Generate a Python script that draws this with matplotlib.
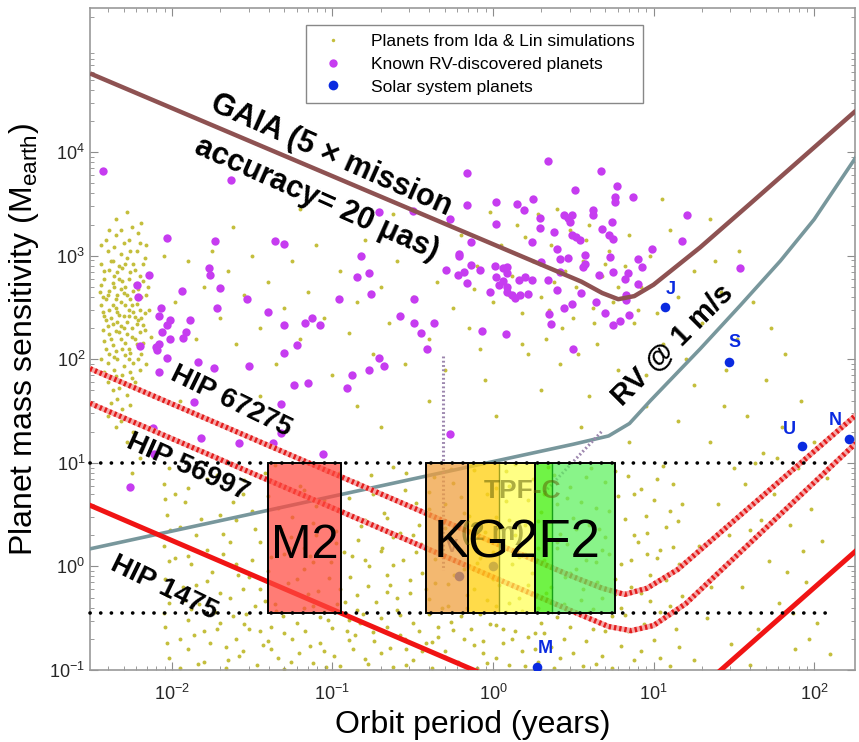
import matplotlib
matplotlib.use("Agg")
import matplotlib.pyplot as plt
from matplotlib.lines import Line2D
from matplotlib.patches import Rectangle
import numpy as np

plt.rcParams["font.family"] = ["Liberation Sans", "DejaVu Sans"]
plt.rcParams["mathtext.default"] = "regular"

# ---- detection curves: log10(period / yr), log10(mass / M_earth) ----
GAIA_LOGP = [-2.51, 0.55, 0.68, 0.78, 0.88, 1.00, 1.29, 1.60, 2.26]
GAIA_LOGM = [4.76, 2.75, 2.64, 2.58, 2.61, 2.72, 3.08, 3.50, 4.40]

RV_LOGP = [-2.51, 0.50, 0.72, 0.85, 0.98, 1.29, 1.54, 1.79, 2.00, 2.26]
RV_LOGM = [0.17, 1.18, 1.26, 1.38, 1.60, 2.10, 2.52, 2.95, 3.35, 3.95]

HIP67275_LOGP = [-2.51, 0.50, 0.68, 0.82, 0.96, 1.15, 2.26]
HIP67275_LOGM = [1.91, -0.10, -0.21, -0.27, -0.21, -0.03, 1.46]

HIP56997_LOGP = [-2.51, 0.55, 0.72, 0.86, 1.00, 1.20, 2.26]
HIP56997_LOGM = [1.575, -0.47, -0.58, -0.62, -0.57, -0.36, 1.19]

HIP1475_LOGP = [-2.51, 0.60, 0.80, 1.00, 1.20, 2.26]
HIP1475_LOGM = [0.59, -1.48, -1.58, -1.55, -1.30, 0.15]

# dotted guide lines (period yr, mass M_earth)
VENUS_GUIDE_P = [0.49, 0.49]
VENUS_GUIDE_M = [107.0, 0.93]
DIAG_GUIDE_P = [2.09, 4.84]
DIAG_GUIDE_M = [5.2, 20.7]
LIMIT_P = [0.0031, 123.0]
LIMIT_M = [10.0, 0.355]

# ---- spectral type boxes (period range in yr) ----
BOX_M = (0.355, 10.0)
BOX_M2 = (0.0398, 0.113)
BOX_K = (0.383, 0.698)
BOX_G = (0.698, 1.09, 1.83)
BOX_F = (1.83, 2.33, 5.75)

# ---- known RV planets: log10 period, log10 mass ----
RV_PLANETS = [
    (-2.43, 3.82), (-1.63, 3.73), (-0.16, 3.80), (-0.16, 3.49), (-2.03, 3.17),
    (-1.73, 3.14), (-1.36, 3.14), (-1.30, 3.11), (-0.71, 3.42), (-0.50, 3.43),
    (-0.82, 3.00), (-0.21, 3.02), (-0.29, 2.86), (-0.22, 2.81), (-0.18, 2.84),
    (-0.16, 2.74), (-1.77, 2.88), (-1.76, 2.81), (-2.14, 2.81), (-2.22, 2.72),
    (-2.21, 2.60), (-1.94, 2.66), (-1.70, 2.69), (-0.85, 2.79), (-0.77, 2.83),
    (-0.76, 2.63), (-0.96, 2.58), (-0.49, 2.58), (-1.53, 2.58), (-1.72, 2.50),
    (-1.40, 2.46), (-2.07, 2.50), (-2.08, 2.42), (-2.01, 2.38), (-2.03, 2.33),
    (-1.89, 2.38), (-2.06, 2.26), (-2.01, 2.20), (-1.93, 2.21), (-1.91, 2.26),
    (-2.08, 2.15), (-2.10, 2.12), (-2.09, 2.09), (-2.20, 2.13), (-1.30, 2.33),
    (-1.17, 2.35), (-1.13, 2.40), (-1.08, 2.33), (-0.58, 2.42), (-0.49, 2.35),
    (-0.37, 2.35), (-0.45, 2.25), (-0.41, 2.10), (-1.22, 2.14), (-1.30, 2.06),
    (-1.52, 1.94), (-1.84, 1.97), (-1.74, 1.92), (-2.03, 2.01), (-2.08, 1.88),
    (-0.71, 2.01), (-0.68, 1.94), (-0.77, 1.90), (-0.88, 1.85), (-0.91, 1.72),
    (-1.15, 1.77), (-1.24, 1.75), (-1.86, 1.59), (-1.82, 1.24), (-2.12, 1.34),
    (-2.26, 0.77), (-1.58, 1.19), (-1.32, 1.57), (-1.32, 1.29), (-1.37, 1.19),
    (-1.06, 1.09), (-2.11, 1.09),
    (0.34, 3.91), (0.67, 3.82), (0.77, 3.67), (0.51, 3.63), (0.87, 3.57),
    (0.76, 3.57), (0.76, 3.52), (0.02, 3.52), (0.15, 3.50), (0.25, 3.55),
    (0.19, 3.44), (1.21, 3.39), (0.62, 3.44), (0.62, 3.39), (0.44, 3.39),
    (0.47, 3.36), (0.49, 3.39), (0.48, 3.33), (0.29, 3.36), (0.02, 3.31),
    (-0.27, 3.35), (0.74, 3.33), (0.29, 3.27), (0.68, 3.26), (0.38, 3.23),
    (0.49, 3.20), (0.52, 3.18), (0.54, 3.15), (0.72, 3.20), (0.75, 3.16),
    (1.18, 3.14), (0.24, 3.13), (0.99, 3.06), (-0.14, 3.13), (0.40, 3.06),
    (0.57, 3.01), (-0.21, 3.00), (0.73, 2.99), (0.90, 2.97), (0.42, 2.97),
    (0.47, 2.98), (0.30, 2.94), (0.57, 2.92), (0.56, 2.89), (0.93, 2.89),
    (-0.14, 2.91), (-0.08, 2.86), (0.01, 2.90), (0.06, 2.88), (0.09, 2.89),
    (0.09, 2.83), (0.42, 2.84), (0.66, 2.81), (0.75, 2.84), (0.82, 2.78),
    (0.84, 2.83), (0.02, 2.79), (0.06, 2.76), (0.04, 2.72), (0.16, 2.77),
    (0.20, 2.79), (0.24, 2.77), (0.34, 2.77), (0.90, 2.73), (-0.02, 2.65),
    (0.09, 2.70), (0.09, 2.65), (0.12, 2.62), (0.14, 2.59), (0.17, 2.62),
    (0.22, 2.63), (0.40, 2.67), (0.55, 2.64), (0.83, 2.62), (0.83, 2.57),
    (0.64, 2.55), (0.44, 2.50), (0.49, 2.53), (0.35, 2.44), (0.70, 2.45),
    (0.85, 2.43), (0.79, 2.37), (0.75, 2.33), (0.36, 2.34), (-0.07, 2.27),
    (0.08, 2.24), (0.50, 2.10), (-0.27, 1.28), (1.54, 2.88),
]

# ---- Ida & Lin simulated planets: log10 period, log10 mass ----
SIM_HOT = [
    (-2.40, 3.05), (-2.35, 3.20), (-2.30, 3.12), (-2.25, 3.28), (-2.38, 2.95),
    (-2.33, 2.90), (-2.28, 2.98), (-2.22, 3.05), (-2.18, 2.92), (-2.42, 2.85),
    (-2.36, 2.80), (-2.31, 2.76), (-2.26, 2.84), (-2.20, 2.80), (-2.15, 2.70),
    (-2.44, 2.72), (-2.39, 2.66), (-2.34, 2.62), (-2.29, 2.70), (-2.24, 2.66),
    (-2.19, 2.60), (-2.41, 2.58), (-2.37, 2.52), (-2.32, 2.55), (-2.27, 2.48),
    (-2.22, 2.53), (-2.17, 2.45), (-2.43, 2.46), (-2.38, 2.40), (-2.33, 2.43),
    (-2.28, 2.36), (-2.23, 2.41), (-2.18, 2.33), (-2.40, 2.32), (-2.35, 2.27),
    (-2.30, 2.30), (-2.25, 2.22), (-2.20, 2.26), (-2.42, 2.18), (-2.37, 2.14),
    (-2.32, 2.20), (-2.27, 2.10), (-2.22, 2.15), (-2.39, 2.05), (-2.34, 2.00),
    (-2.29, 2.04), (-2.24, 1.96), (-2.36, 1.90), (-2.31, 1.85), (-2.26, 1.88),
    (-2.40, 1.78), (-2.33, 1.72), (-2.28, 1.66), (-2.38, 1.58), (-2.31, 1.52),
    (-2.35, 3.35), (-2.28, 3.42), (-2.21, 3.22), (-2.16, 3.10), (-2.44, 3.10),
    (-2.31, 2.88), (-2.36, 2.70), (-2.26, 2.58), (-2.41, 2.38), (-2.30, 2.42),
    (-2.21, 2.68), (-2.34, 2.36), (-2.25, 2.30), (-2.39, 2.24), (-2.29, 2.16),
    (-2.19, 2.05), (-2.35, 2.08), (-2.27, 2.00), (-2.23, 1.78), (-2.14, 2.48),
    (-2.13, 2.22), (-2.16, 1.95), (-2.44, 2.00), (-2.37, 2.95), (-2.24, 2.92),
    (-2.32, 3.02), (-2.27, 3.15), (-2.39, 3.25), (-2.19, 3.32), (-2.43, 2.60),
    (-2.35, 2.50), (-2.21, 2.38), (-2.33, 2.78), (-2.28, 2.62), (-2.23, 2.73),
    (-2.35, 1.35), (-2.28, 1.20), (-2.20, 1.05), (-2.25, 0.90),
    (-2.41, 3.15), (-2.36, 3.08), (-2.32, 3.25), (-2.26, 3.05), (-2.20, 3.12),
    (-2.17, 2.98), (-2.44, 2.92), (-2.39, 2.86), (-2.34, 2.84), (-2.29, 2.92),
    (-2.23, 2.86), (-2.18, 2.76), (-2.42, 2.78), (-2.37, 2.74), (-2.32, 2.68),
    (-2.27, 2.78), (-2.22, 2.60), (-2.16, 2.62), (-2.45, 2.65), (-2.40, 2.62),
    (-2.35, 2.58), (-2.30, 2.64), (-2.25, 2.52), (-2.20, 2.48), (-2.44, 2.52),
    (-2.39, 2.48), (-2.34, 2.46), (-2.29, 2.52), (-2.24, 2.46), (-2.19, 2.40),
    (-2.42, 2.42), (-2.37, 2.34), (-2.32, 2.32), (-2.27, 2.42), (-2.22, 2.34),
    (-2.17, 2.28), (-2.43, 2.28), (-2.38, 2.20), (-2.33, 2.26), (-2.28, 2.24),
    (-2.23, 2.20), (-2.18, 2.16), (-2.41, 2.10), (-2.36, 2.02), (-2.31, 2.10),
    (-2.26, 2.06), (-2.21, 2.00), (-2.40, 1.96), (-2.35, 1.84), (-2.30, 1.94),
    (-2.25, 1.82), (-2.20, 1.90), (-2.42, 1.88), (-2.37, 1.70), (-2.29, 1.76),
    (-2.34, 1.62), (-2.26, 1.56), (-2.40, 1.45), (-2.32, 1.40), (-2.24, 1.30),
]

SIM_GIANT = [
    (-2.05, 3.00), (-1.98, 2.55), (-1.90, 2.95), (-1.85, 2.20), (-1.80, 2.70),
    (-1.75, 3.05), (-1.70, 2.40), (-1.65, 2.85), (-1.60, 2.15), (-1.55, 2.62),
    (-1.50, 3.00), (-1.45, 2.30), (-1.40, 2.75), (-1.35, 1.95), (-1.30, 2.50),
    (-1.25, 2.95), (-1.20, 2.20), (-1.15, 2.65), (-1.10, 3.10), (-1.05, 2.40),
    (-1.00, 1.85), (-0.95, 2.85), (-0.90, 2.25), (-0.85, 2.55), (-0.80, 3.15),
    (-0.75, 2.05), (-0.70, 2.70), (-0.65, 2.35), (-0.60, 2.95), (-0.55, 1.95),
    (-0.50, 2.60), (-0.45, 3.05), (-0.40, 2.20), (-0.35, 2.75), (-0.30, 1.90),
    (-0.25, 2.50), (-0.20, 3.20), (-0.15, 2.30), (-0.10, 2.90), (-0.05, 1.80),
    (0.00, 2.55), (0.05, 3.10), (0.08, 2.25), (0.12, 2.80), (0.15, 3.30),
    (0.18, 2.45), (0.22, 2.05), (0.25, 2.95), (0.28, 3.40), (0.30, 2.60),
    (0.33, 2.20), (0.36, 3.10), (0.38, 2.75), (0.42, 1.95), (0.45, 2.85),
    (0.48, 3.25), (0.50, 2.40), (0.53, 2.05), (0.56, 2.95), (0.60, 3.30),
    (0.62, 2.50), (0.65, 2.15), (0.68, 2.80), (0.72, 3.05), (0.75, 2.55),
    (0.78, 1.90), (0.82, 2.90), (0.85, 3.20), (0.88, 2.35), (0.92, 2.70),
    (0.95, 1.85), (0.98, 3.00), (1.02, 2.45), (1.06, 2.15), (1.10, 3.25),
    (1.15, 2.60), (1.20, 2.00), (-0.28, 3.32), (-0.02, 3.42), (0.20, 3.18),
    (0.40, 3.45), (0.58, 3.15), (0.70, 2.92), (0.10, 2.62), (0.35, 2.48),
    (-0.12, 2.68), (0.52, 2.70), (0.78, 2.70), (0.90, 2.48), (0.63, 2.35),
    (0.43, 2.30), (0.18, 2.15), (-0.08, 2.10), (-0.40, 1.60), (-0.85, 1.55),
    (-1.45, 1.65), (-1.95, 1.60), (0.30, 1.70), (0.60, 1.65), (0.95, 1.55),
    (1.25, 2.85), (1.35, 3.35), (1.05, 3.55), (-1.62, 3.28), (-1.20, 3.45),
    (-0.62, 3.40), (0.02, 1.45), (-0.70, 1.35), (-1.30, 1.30), (0.55, 1.35),
    (0.85, 1.20), (1.15, 1.40),
]

SIM_FAR = [
    (1.25, 1.75), (1.30, 2.35), (1.35, 1.20), (1.40, 0.60), (1.42, 2.65),
    (1.45, 1.90), (1.50, 0.95), (1.52, 2.20), (1.55, -0.20), (1.58, 1.45),
    (1.60, 0.35), (1.62, 2.55), (1.65, -0.60), (1.68, 1.10), (1.70, 1.80),
    (1.72, 0.05), (1.75, 0.70), (1.78, -0.35), (1.80, 1.35), (1.82, 2.05),
    (1.85, 0.40), (1.88, -0.80), (1.90, 0.95), (1.92, 1.60), (1.95, -0.15),
    (1.98, 0.55), (2.00, 1.20), (2.02, -0.55), (2.05, 0.25), (2.08, 0.85),
    (2.10, -0.85), (1.28, 0.20), (1.33, -0.50), (1.38, 2.95), (1.48, -0.75),
    (1.53, 3.05), (1.63, 1.00), (1.73, 2.30), (1.83, -0.05), (1.93, 0.15),
    (1.47, 0.30), (1.57, 0.80), (1.67, 0.45), (1.77, 1.05), (1.87, -0.45),
    (1.97, -0.70), (1.25, -0.90), (1.36, -0.20), (1.44, 1.55), (1.60, -0.95),
]

SIM_LOW = [
    (-2.02, 0.95), (-1.72, 0.88), (-1.36, 0.98), (-0.96, 0.90), (-0.62, 0.96),
    (-0.37, 0.86), (-0.12, 0.93), (0.14, 0.99), (0.38, 0.88), (0.61, 0.95),
    (0.84, 0.87), (1.06, 0.97), (-2.05, 0.80), (-1.90, 0.76), (-1.55, 0.83),
    (-1.20, 0.78), (-0.85, 0.82), (-0.55, 0.74), (-0.25, 0.81), (0.02, 0.76),
    (0.25, 0.84), (0.48, 0.77), (0.70, 0.82), (0.92, 0.75), (1.12, 0.80),
    (-2.04, 0.65), (-1.98, 0.70), (-1.62, 0.62), (-1.40, 0.68), (-1.05, 0.64),
    (-0.75, 0.70), (-0.48, 0.61), (-0.20, 0.67), (0.08, 0.63), (0.32, 0.70),
    (0.55, 0.62), (0.78, 0.68), (1.00, 0.64), (1.18, 0.60), (-2.03, 0.50),
    (-1.82, 0.46), (-1.50, 0.54), (-1.25, 0.48), (-0.92, 0.52), (-0.66, 0.47),
    (-0.40, 0.55), (-0.15, 0.49), (0.10, 0.45), (0.30, 0.53), (0.50, 0.47),
    (0.72, 0.54), (0.95, 0.49), (1.15, 0.44), (-2.01, 0.35), (-1.95, 0.38),
    (-1.68, 0.31), (-1.32, 0.36), (-1.10, 0.30), (-0.82, 0.39), (-0.58, 0.32),
    (-0.30, 0.37), (-0.05, 0.33), (0.20, 0.40), (0.42, 0.31), (0.66, 0.36),
    (0.88, 0.30), (1.08, 0.38), (-2.05, 0.20), (-1.78, 0.16), (-1.45, 0.24),
    (-1.18, 0.18), (-0.98, 0.23), (-0.70, 0.15), (-0.45, 0.22), (-0.22, 0.17),
    (0.05, 0.25), (0.28, 0.18), (0.46, 0.22), (0.68, 0.16), (0.90, 0.24),
    (1.12, 0.19), (-2.02, 0.05), (-1.98, 0.08), (-1.60, 0.02), (-1.38, 0.09),
    (-1.12, 0.04), (-0.88, 0.10), (-0.62, 0.01), (-0.36, 0.07), (-0.10, 0.03),
    (0.16, 0.09), (0.36, 0.00), (0.58, 0.06), (0.80, 0.02), (1.02, 0.08),
    (-2.04, -0.12), (-1.85, -0.18), (-1.52, -0.10), (-1.28, -0.16), (-1.02, -0.11),
    (-0.78, -0.19), (-0.52, -0.13), (-0.28, -0.17), (0.00, -0.12), (0.22, -0.18),
    (0.45, -0.10), (0.65, -0.15), (0.86, -0.20), (1.08, -0.13), (-2.03, -0.28),
    (-1.92, -0.32), (-1.70, -0.26), (-1.42, -0.33), (-1.15, -0.27), (-0.92, -0.34),
    (-0.66, -0.25), (-0.40, -0.31), (-0.16, -0.28), (0.10, -0.35), (0.33, -0.26),
    (0.55, -0.32), (0.76, -0.27), (0.98, -0.33), (1.18, -0.29), (-2.05, -0.45),
    (-1.88, -0.41), (-1.62, -0.48), (-1.35, -0.43), (-1.08, -0.49), (-0.85, -0.42),
    (-0.58, -0.47), (-0.32, -0.40), (-0.08, -0.46), (0.18, -0.43), (0.40, -0.49),
    (0.62, -0.41), (0.82, -0.47), (1.04, -0.44), (-2.04, -0.58), (-1.80, -0.62),
    (-1.55, -0.56), (-1.30, -0.64), (-1.00, -0.59), (-0.75, -0.63), (-0.50, -0.55),
    (-0.25, -0.61), (0.02, -0.57), (0.26, -0.64), (0.48, -0.58), (0.70, -0.62),
    (0.94, -0.56), (1.14, -0.60), (-2.03, -0.74), (-1.95, -0.70), (-1.66, -0.78),
    (-1.40, -0.72), (-1.14, -0.77), (-0.90, -0.71), (-0.64, -0.79), (-0.38, -0.73),
    (-0.12, -0.76), (0.12, -0.70), (0.36, -0.78), (0.58, -0.72), (0.80, -0.77),
    (1.00, -0.71), (-2.02, -0.88), (-1.84, -0.94), (-1.58, -0.86), (-1.26, -0.92),
    (-1.04, -0.97), (-0.80, -0.89), (-0.54, -0.95), (-0.30, -0.87), (-0.04, -0.93),
    (0.20, -0.96), (0.42, -0.88), (0.64, -0.94), (0.88, -0.90), (1.10, -0.96),
    (-1.75, -0.05), (-1.48, -0.38), (-1.22, -0.55), (-0.95, -0.22), (-0.70, -0.50),
    (-0.44, -0.82), (-0.18, -0.02), (0.06, -0.60), (-1.90, -0.52), (-1.65, -0.90),
    (-1.38, -0.80), (-1.12, -0.38), (-0.86, -0.66), (-0.60, -0.30), (-0.34, -0.58),
    (-0.06, -0.84), (-1.56, -0.22), (-1.30, 0.12), (-1.05, -0.82), (-0.80, 0.06),
    (-0.55, -0.70), (-0.28, 0.28), (0.02, -0.38), (0.26, -0.80), (-2.02, -0.35),
    (-1.72, -0.60), (-1.45, -0.62), (-1.18, -0.02), (-0.90, -0.52), (-0.66, -0.08),
    (-0.42, -0.22), (-0.20, -0.48), (0.04, 0.38), (0.30, -0.55), (0.52, -0.02),
    (0.74, -0.48), (0.96, 0.12), (-1.60, 0.45), (-1.10, 0.58), (-0.50, 0.30),
    (0.10, 0.78), (0.60, 0.40), (0.40, 0.60), (-0.30, 0.60), (-0.80, 0.45),
    (-1.90, 0.10),
]

SIM_DENSE = [
    (-1.95, -0.98), (-1.90, -0.80), (-1.86, -0.66), (-1.80, -0.92), (-1.76, -0.74),
    (-1.70, -0.55), (-1.66, -0.98), (-1.60, -0.70), (-1.56, -0.82), (-1.52, -0.60),
    (-1.47, -0.95), (-1.43, -0.76), (-1.38, -0.58), (-1.34, -0.88), (-1.30, -0.99),
    (-1.25, -0.70), (-1.21, -0.84), (-1.17, -0.62), (-1.12, -0.93), (-1.08, -0.74),
    (-1.03, -0.52), (-0.99, -0.86), (-0.95, -0.96), (-0.91, -0.62), (-0.87, -0.80),
    (-0.83, -0.55), (-0.78, -0.94), (-0.74, -0.72), (-0.70, -0.84), (-0.66, -0.58),
    (-0.62, -0.97), (-0.58, -0.66), (-0.54, -0.80), (-0.50, -0.90), (-0.46, -0.62),
    (-0.42, -0.74), (-0.38, -0.98), (-0.34, -0.68), (-0.30, -0.82), (-0.26, -0.54),
    (-0.22, -0.92), (-0.18, -0.70), (-0.14, -0.60), (-0.10, -0.98), (-0.06, -0.72),
    (-0.02, -0.56), (0.02, -0.88), (0.06, -0.74), (0.10, -0.95), (0.14, -0.62),
    (0.18, -0.82), (0.22, -0.68), (0.28, -0.92), (0.32, -0.64), (0.38, -0.98),
    (0.44, -0.70), (0.50, -0.84), (0.56, -0.96), (0.62, -0.60), (0.68, -0.86),
    (0.74, -0.98), (0.84, -0.62), (0.92, -0.82), (1.04, -0.88), (1.16, -0.78),
    (-1.93, -0.20), (-1.88, 0.02), (-1.83, -0.36), (-1.78, -0.14), (-1.73, -0.44),
    (-1.68, 0.12), (-1.64, -0.30), (-1.59, -0.08), (-1.54, -0.46), (-1.50, 0.06),
    (-1.45, -0.22), (-1.40, -0.04), (-1.36, -0.36), (-1.31, -0.48), (-1.27, 0.18),
    (-1.22, -0.12), (-1.18, -0.40), (-1.14, 0.10), (-1.09, -0.24), (-1.05, -0.44),
    (-1.01, 0.04), (-0.97, -0.36), (-0.93, 0.14), (-0.89, -0.10), (-0.85, -0.28),
    (-0.81, -0.46), (-0.77, 0.00), (-0.73, -0.34), (-0.69, 0.18), (-0.64, -0.18),
    (-0.60, -0.42), (-0.56, 0.06), (-0.52, -0.26), (-0.48, 0.14), (-0.44, -0.06),
    (-0.40, -0.46), (-0.36, -0.16), (-0.32, 0.10), (-0.28, -0.38), (-0.24, -0.08),
    (-0.20, 0.16), (-0.16, -0.40), (-0.12, -0.22), (-0.08, 0.08), (-0.04, -0.32),
    (0.00, 0.14), (0.04, -0.18), (0.08, -0.44), (0.12, 0.02), (0.16, -0.30),
    (0.20, 0.12), (0.24, -0.06), (0.28, -0.40), (0.32, 0.06), (0.36, -0.20),
    (0.40, 0.18), (0.44, -0.36), (0.48, -0.06), (0.52, 0.14), (0.56, -0.22),
    (0.60, -0.44), (0.64, 0.04), (0.68, -0.30), (0.72, 0.12), (0.76, -0.12),
    (0.80, -0.40), (0.86, 0.06), (0.92, -0.26), (0.98, -0.08), (1.04, 0.16),
    (1.10, -0.38), (1.16, 0.02),
    (-1.92, 0.62), (-1.85, 0.30), (-1.78, 0.84), (-1.70, 0.50), (-1.64, 0.24),
    (-1.56, 0.70), (-1.48, 0.36), (-1.42, 0.90), (-1.34, 0.56), (-1.26, 0.28),
    (-1.18, 0.74), (-1.12, 0.42), (-1.04, 0.92), (-0.98, 0.34), (-0.90, 0.66),
    (-0.84, 0.26), (-0.76, 0.88), (-0.68, 0.52), (-0.62, 0.28), (-0.54, 0.90),
    (-0.46, 0.40), (-0.40, 0.72), (-0.33, 0.26), (-0.26, 0.94), (-0.18, 0.52),
    (-0.12, 0.30), (-0.04, 0.70), (0.02, 0.48), (0.08, 0.92), (0.14, 0.30),
    (0.22, 0.64), (0.28, 0.44), (0.34, 0.96), (0.40, 0.24), (0.46, 0.66),
    (0.52, 0.36), (0.58, 0.86), (0.64, 0.56), (0.70, 0.28), (0.76, 0.92),
    (0.82, 0.46), (0.88, 0.70), (0.96, 0.32), (1.02, 0.84), (1.10, 0.54),
]

# ---- solar system (period yr, mass M_earth) ----
SOLAR_NAMES = ["M", "V", "E", "J", "S", "U", "N"]
SOLAR_P = [1.88, 0.615, 1.0, 11.86, 29.46, 84.0, 164.8]
SOLAR_M = [0.107, 0.815, 1.0, 317.8, 95.2, 14.5, 17.1]


def tenpow(values):
    return np.power(10.0, np.asarray(values, dtype=float))


fig = plt.figure(figsize=(8.59, 7.42), dpi=100)
ax = fig.add_axes([0.1048, 0.097, 0.8906, 0.892])
ax.set_xscale("log")
ax.set_yscale("log")

sim = np.array(SIM_HOT + SIM_GIANT + SIM_FAR + SIM_LOW + SIM_DENSE)
ax.scatter(tenpow(sim[:, 0]), tenpow(sim[:, 1]), s=8, color="#c4be3c",
           linewidths=0, zorder=1)
rvp = np.array(RV_PLANETS)
ax.scatter(tenpow(rvp[:, 0]), tenpow(rvp[:, 1]), s=36, color="#c63cf0",
           linewidths=0, zorder=2)

# sensitivity curves
ax.plot(tenpow(GAIA_LOGP), tenpow(GAIA_LOGM), color="#8e5252", lw=3.2,
        solid_capstyle="butt", zorder=3)
ax.plot(tenpow(RV_LOGP), tenpow(RV_LOGM), color="#78979c", lw=2.6, zorder=3)
for lp, lm in [(HIP67275_LOGP, HIP67275_LOGM), (HIP56997_LOGP, HIP56997_LOGM)]:
    ax.plot(tenpow(lp), tenpow(lm), color="#f4a8a8", lw=3.8, zorder=3)
    ax.plot(tenpow(lp), tenpow(lm), color="#e41c1c", lw=3.8,
            linestyle=(0, (0.45, 0.55)), zorder=3.1)
ax.plot(tenpow(HIP1475_LOGP), tenpow(HIP1475_LOGM), color="#f01414", lw=3.6,
        zorder=3)

ax.plot(VENUS_GUIDE_P, VENUS_GUIDE_M, color="#9c86ae", lw=2.2,
        linestyle=(0, (0.6, 0.8)), zorder=3)
ax.plot(DIAG_GUIDE_P, DIAG_GUIDE_M, color="#9c86ae", lw=2.2,
        linestyle=(0, (0.6, 0.8)), zorder=3)

# solar system planets
ax.scatter(SOLAR_P, SOLAR_M, s=48, color="#0a2ae0", linewidths=0, zorder=3.5)
label_offsets = {"M": (6, 13), "J": (4, 13), "S": (4, 14), "U": (-9, 12),
                 "N": (-10, 13), "V": (-5, 20)}
for name, p, m in zip(SOLAR_NAMES, SOLAR_P, SOLAR_M):
    if name not in label_offsets:
        continue
    color = "#7060a0" if name == "V" else "#0a2ae0"
    ax.annotate(name, (p, m), xytext=label_offsets[name], textcoords="offset points",
                ha="center", va="center", fontsize=13, fontweight="bold",
                color=color, zorder=3.5)

# spectral type boxes
m0, m1 = BOX_M


def box(x0, x1, color, alpha, edge="black", lw=1.4):
    ax.add_patch(Rectangle((x0, m0), x1 - x0, m1 - m0, facecolor=color,
                           alpha=alpha, edgecolor="none", zorder=4))
    ax.add_patch(Rectangle((x0, m0), x1 - x0, m1 - m0, facecolor="none",
                           edgecolor=edge, lw=lw, zorder=4.2))


box(BOX_M2[0], BOX_M2[1], "#ff4a40", 0.72)
box(BOX_K[0], BOX_K[1], "#f0a040", 0.75)
ax.add_patch(Rectangle((BOX_G[0], m0), BOX_G[1] - BOX_G[0], m1 - m0,
                       facecolor="#ffd21c", alpha=0.8, edgecolor="none", zorder=4))
ax.add_patch(Rectangle((BOX_G[1], m0), BOX_G[2] - BOX_G[1], m1 - m0,
                       facecolor="#ffff50", alpha=0.7, edgecolor="none", zorder=4))
ax.plot([BOX_G[1], BOX_G[1]], BOX_M, color="#a0a020", lw=1.0, zorder=4.1)
ax.add_patch(Rectangle((BOX_G[0], m0), BOX_G[2] - BOX_G[0], m1 - m0,
                       facecolor="none", edgecolor="black", lw=1.4, zorder=4.2))
ax.add_patch(Rectangle((BOX_F[0], m0), BOX_F[1] - BOX_F[0], m1 - m0,
                       facecolor="#4cf018", alpha=0.8, edgecolor="none", zorder=4))
ax.add_patch(Rectangle((BOX_F[1], m0), BOX_F[2] - BOX_F[1], m1 - m0,
                       facecolor="#5cf05c", alpha=0.72, edgecolor="none", zorder=4))
ax.plot([BOX_F[1], BOX_F[1]], BOX_M, color="#18a018", lw=1.0, zorder=4.1)
ax.add_patch(Rectangle((BOX_F[0], m0), BOX_F[2] - BOX_F[0], m1 - m0,
                       facecolor="none", edgecolor="black", lw=1.4, zorder=4.2))

# TPF-C label, faded over the boxes
ax.text(1.52, 5.4, "TPF-C", ha="center", va="center", fontsize=19,
        fontweight="bold", color="#5a5a00", alpha=0.5, zorder=4.5)
ax.text(1.0, 2.1, "(2 m)", ha="center", va="center", fontsize=19,
        fontweight="bold", color="#5a5a00", alpha=0.45, zorder=4.5)

ax.text(np.sqrt(BOX_M2[0] * BOX_M2[1]), 1.22, "M2", ha="center", va="baseline",
        fontsize=35, zorder=5)
ax.text(1.41, 1.22, "KG2F2", ha="center", va="baseline", fontsize=38, zorder=5)

# mass limits
for m in LIMIT_M:
    ax.plot(LIMIT_P, [m, m], color="black", lw=2.6, linestyle=(0, (0.05, 2.9)),
            dash_capstyle="round", zorder=6, clip_on=False)

# curve labels
ax.text(0.098, 9300, "GAIA (5 \u00d7 mission", rotation=-24, ha="center", va="center",
        fontsize=22, fontweight="bold", zorder=6, rotation_mode="anchor")
ax.text(0.080, 3500, "accuracy= 20 \u03bcas)", rotation=-24, ha="center", va="center",
        fontsize=22, fontweight="bold", zorder=6, rotation_mode="anchor")
ax.text(13.2, 138, "RV @ 1 m/s", rotation=45, ha="center", va="center",
        fontsize=21, fontweight="bold", zorder=6, rotation_mode="anchor")
ax.text(0.0234, 39, "HIP 67275", rotation=-26, ha="center", va="center",
        fontsize=20, fontweight="bold", zorder=6, rotation_mode="anchor")
ax.text(0.0126, 9.1, "HIP 56997", rotation=-24, ha="center", va="center",
        fontsize=20, fontweight="bold", zorder=6, rotation_mode="anchor")
ax.text(0.0089, 0.62, "HIP 1475", rotation=-26, ha="center", va="center",
        fontsize=20, fontweight="bold", zorder=6, rotation_mode="anchor")

# axes styling
ax.set_xlim(10 ** -2.51, 10 ** 2.255)
ax.set_ylim(0.1, 10 ** 5.39)
ax.set_xticks([1e-2, 1e-1, 1e0, 1e1, 1e2])
ax.set_yticks([1e-1, 1e0, 1e1, 1e2, 1e3, 1e4])
ax.tick_params(which="both", direction="in", top=True, right=True,
               color="#8c8c8c", labelcolor="#262626", labelsize=13)
ax.tick_params(which="major", length=6)
ax.tick_params(which="minor", length=3)
ax.tick_params(axis="x", pad=10)
for sp in ax.spines.values():
    sp.set_color("#999999")
    sp.set_linewidth(1.2)
ax.set_xlabel("Orbit period (years)", fontsize=23, labelpad=4)
ax.set_ylabel("Planet mass sensitivity (M$_{earth}$)", fontsize=23, labelpad=6)

handles = [
    Line2D([], [], ls="none", marker="o", ms=2.5, color="#c4be3c", mec="none"),
    Line2D([], [], ls="none", marker="o", ms=6, color="#c63cf0", mec="none"),
    Line2D([], [], ls="none", marker="o", ms=7, color="#0a2ae0", mec="none"),
]
labels = ["Planets from Ida & Lin simulations", "Known RV-discovered planets",
          "Solar system planets"]
leg = ax.legend(handles, labels, loc="upper center", bbox_to_anchor=(0.503, 0.988),
                fontsize=12.5, frameon=True, fancybox=False, edgecolor="#888888",
                framealpha=1, handletextpad=1.2, labelspacing=0.45, borderpad=0.5)
leg.set_zorder(7)

fig.savefig("out.png", dpi=100)
